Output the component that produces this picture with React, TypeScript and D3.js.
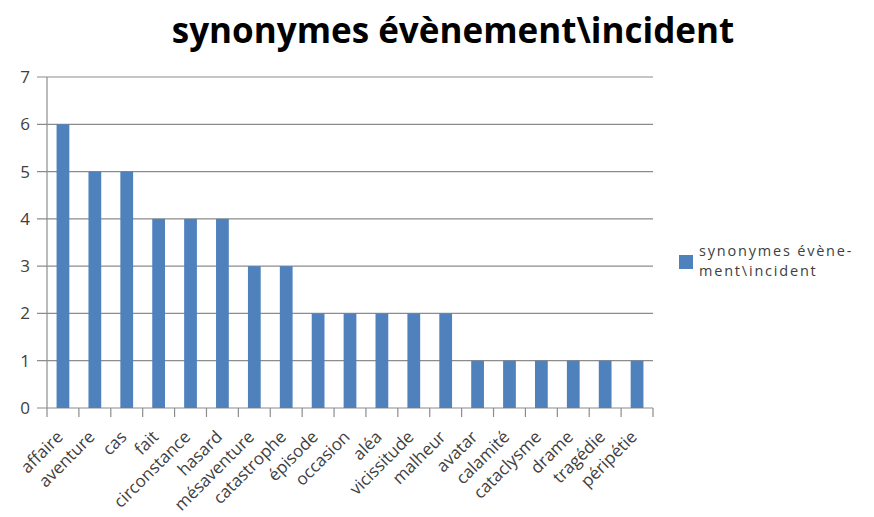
import React from "react";
import * as d3 from "d3";

const categories = [
  "affaire", "aventure", "cas", "fait", "circonstance", "hasard", "mésaventure",
  "catastrophe", "épisode", "occasion", "aléa", "vicissitude", "malheur", "avatar",
  "calamité", "cataclysme", "drame", "tragédie", "péripétie",
];
const counts = [6, 5, 5, 4, 4, 4, 3, 3, 2, 2, 2, 2, 2, 1, 1, 1, 1, 1, 1];
const yTicks = [0, 1, 2, 3, 4, 5, 6, 7];
const title = "synonymes évènement\\incident";
const legendLines = ["synonymes évène-", "ment\\incident"];

const W = 874;
const H = 517;
const plot = { left: 47, right: 653, top: 77, bottom: 408 };
const barColor = "#4F81BD";
const gridColor = "#8c8c8c";
const textColor = "#404040";
const font = "'Open Sans', 'Liberation Sans', sans-serif";

export default function App() {
  const x = d3
    .scaleBand<string>()
    .domain(categories)
    .range([plot.left, plot.right])
    .paddingInner(0.6)
    .paddingOuter(0.3);
  const y = d3.scaleLinear().domain([0, 7]).range([plot.bottom, plot.top]);
  const n = categories.length;
  const tickXs = d3.range(n + 1).map((i) => plot.left + (i * (plot.right - plot.left)) / n);

  return (
    <svg width={W} height={H} style={{ position: "absolute", left: 0, top: 0, background: "#fff" }}>
      <text x={453} y={43} textAnchor="middle" fontFamily={font} fontWeight="bold" fontSize={35} fill="#000">
        {title}
      </text>
      {yTicks.map((t) => (
        <g key={t}>
          <line x1={plot.left - 10} x2={plot.right} y1={y(t)} y2={y(t)} stroke={gridColor} strokeWidth={1.2} />
          <text x={plot.left - 17} y={y(t) + 6} textAnchor="end" fontFamily={font} fontSize={17} fill={textColor}>
            {t}
          </text>
        </g>
      ))}
      <line x1={plot.left} x2={plot.left} y1={plot.top} y2={plot.bottom} stroke={gridColor} strokeWidth={1.2} />
      {tickXs.map((tx, i) => (
        <line key={i} x1={tx} x2={tx} y1={plot.bottom} y2={plot.bottom + 9} stroke={gridColor} strokeWidth={1.2} />
      ))}
      {categories.map((c, i) => (
        <rect key={c} x={x(c)} y={y(counts[i])} width={x.bandwidth()} height={y(0) - y(counts[i])} fill={barColor} />
      ))}
      {categories.map((c) => {
        const cx = (x(c) as number) + x.bandwidth() / 2 + 1;
        const cy = plot.bottom + 30;
        return (
          <text
            key={c}
            x={cx}
            y={cy}
            textAnchor="end"
            transform={`rotate(-45 ${cx} ${cy})`}
            fontFamily={font}
            fontSize={17}
            fill={textColor}
          >
            {c}
          </text>
        );
      })}
      <rect x={679} y={255} width={14} height={14} fill={barColor} />
      {legendLines.map((l, i) => (
        <text key={i} x={699} y={256 + i * 20} fontFamily={font} fontSize={14.5} letterSpacing={1.8} fill={textColor}>
          {l}
        </text>
      ))}
    </svg>
  );
}
